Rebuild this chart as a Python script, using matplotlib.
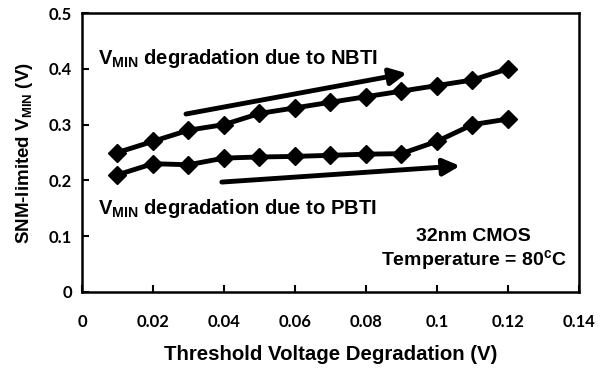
import matplotlib
matplotlib.use('Agg')
import matplotlib.pyplot as plt

# Vth degradation sweep (V)
dvth = [0.01, 0.02, 0.03, 0.04, 0.05, 0.06, 0.07, 0.08, 0.09, 0.10, 0.11, 0.12]
# SNM-limited VMIN (V)
vmin_nbti = [0.25, 0.27, 0.29, 0.30, 0.32, 0.33, 0.34, 0.35, 0.36, 0.37, 0.38, 0.40]
vmin_pbti = [0.21, 0.23, 0.228, 0.24, 0.242, 0.243, 0.245, 0.247, 0.248, 0.27, 0.30, 0.31]

xticks = [0, 0.02, 0.04, 0.06, 0.08, 0.1, 0.12, 0.14]
xtick_labels = ['0', '0.02', '0.04', '0.06', '0.08', '0.1', '0.12', '0.14']
yticks = [0, 0.1, 0.2, 0.3, 0.4, 0.5]
ytick_labels = ['0', '0.1', '0.2', '0.3', '0.4', '0.5']

plt.rcParams['font.family'] = 'Liberation Sans'
plt.rcParams['font.weight'] = 'bold'
plt.rcParams['axes.labelweight'] = 'bold'
plt.rcParams['mathtext.fontset'] = 'custom'
plt.rcParams['mathtext.rm'] = 'Liberation Sans:bold'
plt.rcParams['mathtext.it'] = 'Liberation Sans:bold'
plt.rcParams['mathtext.bf'] = 'Liberation Sans:bold'
plt.rcParams['mathtext.default'] = 'rm'

fig = plt.figure(figsize=(6.05, 3.69), dpi=100)
ax = fig.add_axes([0.1355, 0.2087, 0.8215, 0.756])

for y in (vmin_nbti, vmin_pbti):
    ax.plot(dvth, y, color='black', lw=3.5, marker='D', markersize=9,
            solid_joinstyle='round')

ax.set_xlim(0, 0.14)
ax.set_ylim(0, 0.5)
ax.set_xticks(xticks)
ax.set_xticklabels(xtick_labels, fontfamily='Lato', fontweight='bold', fontsize=12)
ax.set_yticks(yticks)
ax.set_yticklabels(ytick_labels, fontfamily='Lato', fontweight='bold', fontsize=12)
ax.tick_params(axis='x', direction='in', length=5, width=1.5, pad=16)
ax.tick_params(axis='y', direction='in', length=5, width=1.5, pad=7)
for s in ax.spines.values():
    s.set_linewidth(1.8)

ax.set_xlabel('Threshold Voltage Degradation (V)', fontsize=14.7, labelpad=11)
ax.set_ylabel(r'SNM-limited V$_{MIN}$ (V)', fontsize=13.5, labelpad=10)

# trend arrows
arrow_style = dict(arrowstyle='-|>,head_length=1.0,head_width=0.5', color='black',
                   lw=3.5, shrinkA=0, shrinkB=0)
ax.annotate('', xy=(0.0915, 0.392), xytext=(0.0293, 0.319), arrowprops=arrow_style)
ax.annotate('', xy=(0.1065, 0.226), xytext=(0.0394, 0.197), arrowprops=arrow_style)

ax.text(0.0045, 0.419, r'V$_{MIN}$ degradation due to NBTI', fontsize=14.5,
        ha='left', va='center')
ax.text(0.0045, 0.150, r'V$_{MIN}$ degradation due to PBTI', fontsize=14.5,
        ha='left', va='center')
ax.text(0.1103, 0.100, '32nm CMOS', fontsize=14, ha='center', va='center')
ax.text(0.1103, 0.057, r'Temperature = 80$^{c}$C', fontsize=14, ha='center', va='center')

fig.savefig('out.png', dpi=100)
